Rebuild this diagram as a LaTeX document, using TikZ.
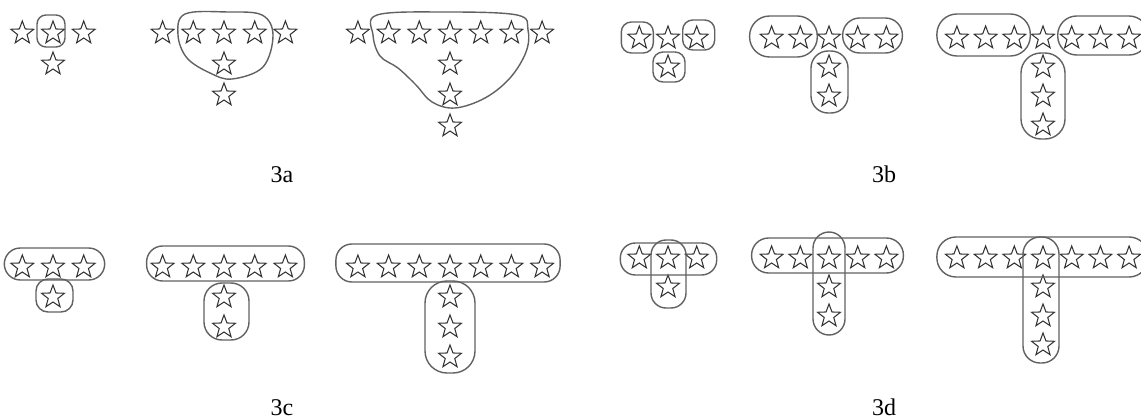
\documentclass[tikz,border=0pt]{standalone}
\usepackage{fontspec}
\setmainfont{Liberation Serif}
\usetikzlibrary{shapes.geometric,calc}

\begin{document}
\begin{tikzpicture}[x=1pt,y=-1pt,
  pt/.style={star,star points=5,star point ratio=2.4,draw=black!80,line width=1.05pt,minimum size=24pt,inner sep=0pt},
  hoop/.style={draw=black!62,line width=1.4pt},
  lab/.style={font=\fontsize{24}{28}\selectfont,anchor=base,inner sep=0pt}]
\clip (0,0) rectangle (1141,420);
% the stars: name / centre x / top row y / arm length / step across / step down
\foreach \k/\cx/\ty/\n/\s/\v in {a1/53/33/1/30.7/31,a2/224/33/2/30.7/31,a3/450/33/3/30.7/31,
    b1/668/38/1/28.7/29,b2/829/38/2/28.7/29,b3/1043/38/3/28.7/29,
    c1/53/267/1/30.7/30,c2/224/267/2/30.7/30,c3/450/267/3/30.7/30,
    d1/668/258/1/28.7/29,d2/829/258/2/28.7/29,d3/1043/258/3/28.7/29} {
  \pgfmathtruncatemacro{\m}{2*\n+1}
  \foreach \i in {1,...,\m} {
    \node[pt] (\k-t\i) at ({\cx+(\i-\n-1)*\s},\ty) {};
  }
  \foreach \j in {1,...,\n} {
    \node[pt] (\k-s\j) at (\cx,{\ty+\j*\v}) {};
  }
}
% 3a
\draw[hoop,rounded corners=9pt] ($(a1-t2)+(-16,-18)$) rectangle ($(a1-t2)+(12,14)$);
\draw[hoop] plot[smooth cycle,tension=0.6] coordinates {(185,14) (228,12) (262,15) (273,35) (263,67) (232,79) (210,73) (187,58) (178,35)};
\draw[hoop] plot[smooth cycle,tension=0.6] coordinates {(377,15) (443,12) (517,15) (528,30) (526,52) (510,78) (485,98) (455,108) (432,102) (416,85) (398,68) (380,56) (373,35)};
% 3b
\draw[hoop,rounded corners=10pt] ($(b1-t1)+(-18,-16)$) rectangle ($(b1-t1)+(14,15)$);
\draw[hoop,rounded corners=10pt] ($(b1-t3)+(-14,-18)$) rectangle ($(b1-t3)+(18,12)$);
\draw[hoop,rounded corners=10pt] ($(b1-s1)+(-15,-15)$) rectangle ($(b1-s1)+(17,15)$);
\draw[hoop,rounded corners=20pt] ($(b2-t1)+(-22,-22)$) rectangle ($(b2-t2)+(17,19)$);
\draw[hoop,rounded corners=17pt] ($(b2-t4)+(-15,-20)$) rectangle ($(b2-t5)+(16,15)$);
\draw[hoop,rounded corners=17pt] ($(b2-s1)+(-18,-16)$) rectangle ($(b2-s2)+(19,17)$);
\draw[hoop,rounded corners=20pt] ($(b3-t1)+(-20,-24)$) rectangle ($(b3-t3)+(16,18)$);
\draw[hoop,rounded corners=19pt] ($(b3-t5)+(-14,-22)$) rectangle ($(b3-t7)+(19,17)$);
\draw[hoop,rounded corners=20pt] ($(b3-s1)+(-22,-14)$) rectangle ($(b3-s3)+(22,14)$);
% 3c
\draw[hoop,rounded corners=16pt] ($(c1-t1)+(-18,-19)$) rectangle ($(c1-t3)+(21,13)$);
\draw[hoop,rounded corners=12pt] ($(c1-s1)+(-17,-18)$) rectangle ($(c1-s1)+(20,15)$);
\draw[hoop,rounded corners=16pt] ($(c2-t1)+(-16,-21)$) rectangle ($(c2-t5)+(19,14)$);
\draw[hoop,rounded corners=18pt] ($(c2-s1)+(-20,-14)$) rectangle ($(c2-s2)+(25,13)$);
\draw[hoop,rounded corners=16pt] ($(c3-t1)+(-22,-23)$) rectangle ($(c3-t7)+(18,15)$);
\draw[hoop,rounded corners=22pt] ($(c3-s1)+(-25,-16)$) rectangle ($(c3-s3)+(25,16)$);
% 3d
\draw[hoop,rounded corners=15pt] ($(d1-t1)+(-19,-15)$) rectangle ($(d1-t3)+(20,17)$);
\draw[hoop,rounded corners=15pt] ($(d1-t2)+(-17,-18)$) rectangle ($(d1-s1)+(18,21)$);
\draw[hoop,rounded corners=17pt] ($(d2-t1)+(-20,-20)$) rectangle ($(d2-t5)+(17,15)$);
\draw[hoop,rounded corners=16pt] ($(d2-t3)+(-16,-26)$) rectangle ($(d2-s2)+(16,19)$);
\draw[hoop,rounded corners=19pt] ($(d3-t1)+(-20,-21)$) rectangle ($(d3-t7)+(19,19)$);
\draw[hoop,rounded corners=17pt] ($(d3-t4)+(-20,-21)$) rectangle ($(d3-s3)+(16,18)$);
% captions
\node[lab] (capa) at (282,182) {3a};
\node[lab] (capb) at (884,182) {3b};
\node[lab] (capc) at (282,415) {3c};
\node[lab] (capd) at (884,415) {3d};
\end{tikzpicture}
\end{document}
